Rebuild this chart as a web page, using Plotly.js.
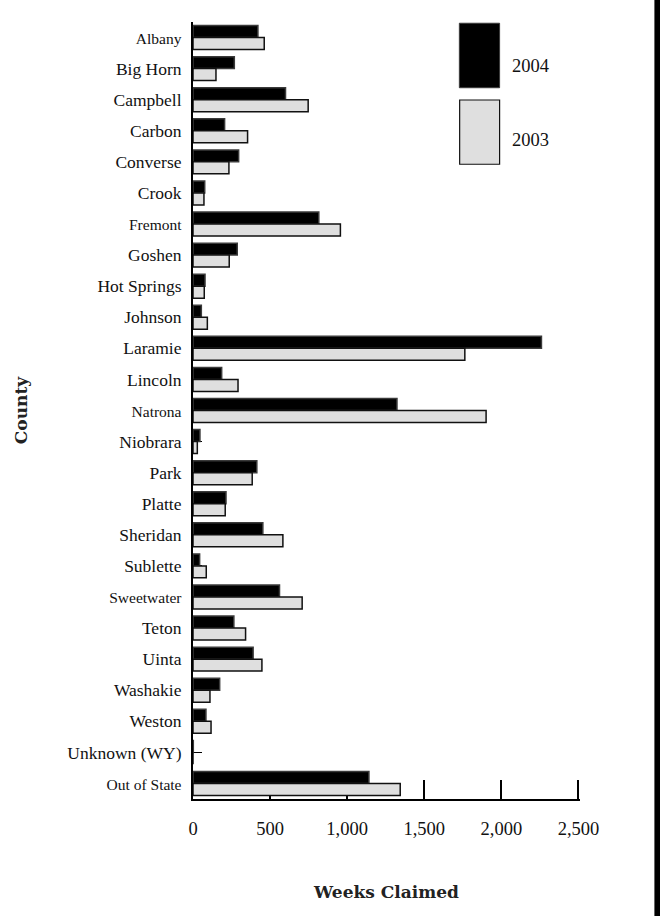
<!DOCTYPE html>
<html>
<head>
<meta charset="utf-8">
<script src="https://cdn.plot.ly/plotly-3.0.1.min.js"></script>
<style>
  html, body { margin: 0; padding: 0; background: #fff; }
  #chart { width: 660px; height: 916px; }
</style>
</head>
<body>
<div id="chart"></div>
<script>
// ---- data ----
const counties = ["Albany","Big Horn","Campbell","Carbon","Converse","Crook","Fremont","Goshen",
  "Hot Springs","Johnson","Laramie","Lincoln","Natrona","Niobrara","Park","Platte","Sheridan",
  "Sublette","Sweetwater","Teton","Uinta","Washakie","Weston","Unknown (WY)","Out of State"];
const weeks2004 = [421,268,600,205,296,76,816,287,78,54,2260,186,1323,45,414,214,453,43,561,265,390,173,84,2,1141];
const weeks2003 = [462,149,747,354,233,71,956,235,73,93,1763,292,1901,28,384,209,583,86,708,341,447,110,117,0,1344];
const smallLabels = ["Albany","Fremont","Natrona","Sweetwater","Out of State"];
const xTickVals = [0,500,1000,1500,2000,2500];
const seriesNames = ["2004","2003"];

const tickText = counties.map(c => smallLabels.includes(c)
  ? '<span style="font-size:15.5px">' + c + '</span>'
  : c);

const traces = [
  { type: 'bar', orientation: 'h', name: seriesNames[0], y: counties, x: weeks2004,
    marker: { color: '#000000', line: { color: '#3a3a3a', width: 1.5 } } },
  { type: 'bar', orientation: 'h', name: seriesNames[1], y: counties, x: weeks2003,
    marker: { color: '#dfdfdf', line: { color: '#111111', width: 1.5 } } }
];

const serif = 'Liberation Serif, Times New Roman, serif';
const boldSerif = 'DejaVu Serif, serif';

// plot area: 193px .. ~580px ; paper helpers
const plotW = 387.5;
const px = v => (v - 193) / plotW;

const layout = {
  width: 660, height: 916,
  margin: { l: 193, r: 660 - 193 - plotW, t: 22, b: 117 },
  paper_bgcolor: '#ffffff', plot_bgcolor: '#ffffff',
  barmode: 'group', bargap: 0.23, bargroupgap: 0,
  showlegend: false,
  xaxis: {
    range: [0, 2510], tickvals: xTickVals, tickformat: ',d',
    ticks: 'inside', ticklen: 19, tickwidth: 2, tickcolor: '#000',
    showline: true, linecolor: '#000', linewidth: 2,
    showgrid: false, zeroline: false, layer: 'below traces',
    ticklabelstandoff: 12,
    tickfont: { family: serif, size: 18.5, color: '#111' },
    title: { text: '<b>Weeks Claimed</b>', standoff: 48,
             font: { family: boldSerif, size: 17, color: '#222' } }
  },
  yaxis: {
    type: 'category', autorange: 'reversed',
    tickvals: counties, ticktext: tickText,
    ticks: 'inside', ticklen: 9, tickwidth: 1.5, tickcolor: '#000',
    showline: true, linecolor: '#000', linewidth: 2,
    showgrid: false, zeroline: false, layer: 'below traces',
    ticklabelstandoff: 6,
    tickfont: { family: serif, size: 17.5, color: '#111' },
    title: { text: '<b>County</b>', standoff: 35,
             font: { family: boldSerif, size: 17, color: '#222' } }
  },
  shapes: [
    // legend swatches
    { type: 'rect', xref: 'paper', yref: 'paper', x0: px(459.7), x1: px(500), y0: 0.9154, y1: 0.9984,
      fillcolor: '#000000', line: { color: '#3a3a3a', width: 1 } },
    { type: 'rect', xref: 'paper', yref: 'paper', x0: px(460), x1: px(500), y0: 0.8169, y1: 0.8996,
      fillcolor: '#dfdfdf', line: { color: '#111111', width: 1.2 } },
    // page border on the right
    { type: 'rect', xref: 'paper', yref: 'paper', x0: px(655), x1: px(662), y0: -0.2, y1: 1.1,
      fillcolor: '#000000', line: { width: 0 } }
  ],
  annotations: [
    { xref: 'paper', yref: 'paper', x: px(510), y: 0.9434, xanchor: 'left', yanchor: 'middle',
      text: seriesNames[0], showarrow: false, font: { family: serif, size: 18.5, color: '#111' } },
    { xref: 'paper', yref: 'paper', x: px(510), y: 0.8481, xanchor: 'left', yanchor: 'middle',
      text: seriesNames[1], showarrow: false, font: { family: serif, size: 18.5, color: '#111' } }
  ]
};

Plotly.newPlot('chart', traces, layout, { staticPlot: true, displayModeBar: false });
</script>
</body>
</html>
